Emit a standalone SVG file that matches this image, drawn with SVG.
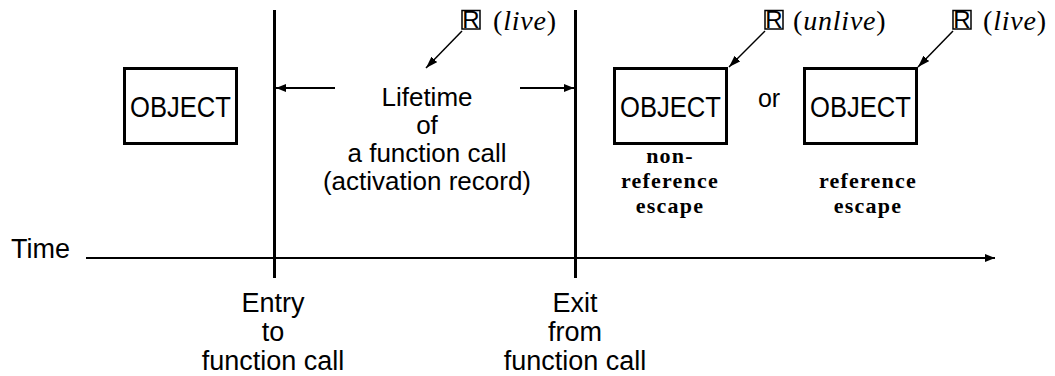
<svg xmlns="http://www.w3.org/2000/svg" width="1055" height="376" viewBox="0 0 1055 376">
<style>
.box{fill:none;stroke:#000;stroke-width:3}
.obj{font-family:"Liberation Sans",Arial,sans-serif;font-size:29px;text-anchor:middle}
.sans{font-family:"Liberation Sans",Arial,sans-serif;font-size:27px;text-anchor:middle}
.ser{font-family:"Liberation Serif","Times New Roman",serif;font-size:22px;font-weight:bold;text-anchor:middle;letter-spacing:1.2px}
.math{font-family:"Liberation Serif","Times New Roman",serif;font-size:28px;letter-spacing:0.8px}
.rb{font-family:"Liberation Sans",Arial,sans-serif;font-size:24px;text-anchor:middle}
.rbox{fill:none;stroke:#000;stroke-width:1.5}
.thick{stroke:#000;stroke-width:3}
.med{stroke:#000;stroke-width:2;fill:none}
.thin{stroke:#000;stroke-width:1.5;fill:none}
</style>
<defs>
<marker id="ah" viewBox="0 0 10 8" refX="10" refY="4" markerWidth="10" markerHeight="8" markerUnits="userSpaceOnUse" orient="auto">
<path d="M0,0 L10,4 L0,8 z" fill="#000"/>
</marker>
<marker id="ahs" viewBox="0 0 12 8" refX="12" refY="4" markerWidth="12" markerHeight="8" markerUnits="userSpaceOnUse" orient="auto">
<path d="M0,0 L12,4 L0,8 z" fill="#000"/>
</marker>
</defs>
<g id="connectors">
<line class="thick" x1="274.5" y1="10" x2="274.5" y2="278"/>
<line class="thick" x1="575.5" y1="10" x2="575.5" y2="278"/>
<line class="med" x1="86" y1="258" x2="995" y2="258" marker-end="url(#ah)"/>
<line class="med" x1="335" y1="88" x2="276" y2="88" marker-end="url(#ah)"/>
<line class="med" x1="520" y1="88" x2="574" y2="88" marker-end="url(#ah)"/>
<line class="thin" x1="462" y1="31" x2="426" y2="68" marker-end="url(#ahs)"/>
<line class="thin" x1="765" y1="31" x2="729" y2="67" marker-end="url(#ahs)"/>
<line class="thin" x1="953" y1="31" x2="918" y2="67" marker-end="url(#ahs)"/>
</g>
<g id="object1">
<rect class="box" x="124.5" y="68.5" width="112" height="75"/>
<text class="obj" x="180.5" y="117" textLength="101" lengthAdjust="spacingAndGlyphs">OBJECT</text>
</g>
<g id="object2">
<rect class="box" x="614.5" y="68.5" width="112" height="75"/>
<text class="obj" x="670.5" y="117" textLength="101" lengthAdjust="spacingAndGlyphs">OBJECT</text>
</g>
<g id="object3">
<rect class="box" x="804.5" y="68.5" width="112" height="75"/>
<text class="obj" x="860.5" y="117" textLength="101" lengthAdjust="spacingAndGlyphs">OBJECT</text>
</g>
<g id="time-label">
<text class="sans" x="11" y="258" style="text-anchor:start">Time</text>
</g>
<g id="lifetime">
<text class="sans" x="427" y="106" style="font-size:26px">Lifetime</text>
<text class="sans" x="427" y="134" style="font-size:26px">of</text>
<text class="sans" x="427" y="162" style="font-size:26px">a function call</text>
<text class="sans" x="427" y="190" style="font-size:26px">(activation record)</text>
</g>
<g id="entry">
<text class="sans" x="273" y="312">Entry</text>
<text class="sans" x="273" y="341">to</text>
<text class="sans" x="273" y="370">function call</text>
</g>
<g id="exit">
<text class="sans" x="575" y="312">Exit</text>
<text class="sans" x="575" y="341">from</text>
<text class="sans" x="575" y="370">function call</text>
</g>
<g id="or">
<text class="sans" x="769" y="107" style="font-size:25px">or</text>
</g>
<g id="nonref">
<text class="ser" x="670" y="163">non-</text>
<text class="ser" x="670" y="188">reference</text>
<text class="ser" x="670" y="213">escape</text>
</g>
<g id="ref">
<text class="ser" x="868" y="188">reference</text>
<text class="ser" x="868" y="213">escape</text>
</g>
<g id="r-live-1">
<rect class="rbox" x="462" y="10.5" width="18" height="18.5"/>
<text class="rb" x="471" y="28">R</text>
<text class="math" x="493" y="30">(<tspan font-style="italic">live</tspan>)</text>
</g>
<g id="r-unlive">
<rect class="rbox" x="765" y="10.5" width="18" height="18.5"/>
<text class="rb" x="774" y="28">R</text>
<text class="math" x="793" y="30">(<tspan font-style="italic">unlive</tspan>)</text>
</g>
<g id="r-live-2">
<rect class="rbox" x="953" y="10.5" width="18" height="18.5"/>
<text class="rb" x="962" y="28">R</text>
<text class="math" x="983" y="30">(<tspan font-style="italic">live</tspan>)</text>
</g>
</svg>
